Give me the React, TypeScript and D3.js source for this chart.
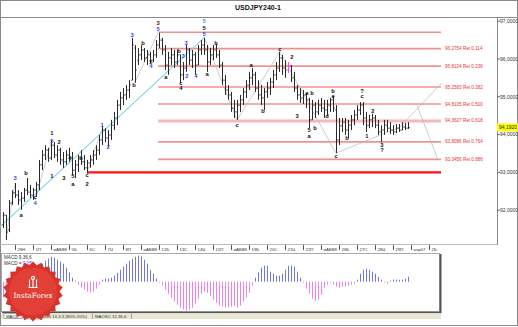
import React from 'react';
import * as d3 from 'd3';

// ---- OHLC data (USDJPY, H4) ----
const highs = [91.95,91.87,92.27,92.53,92.72,92.53,92.48,92.59,92.85,92.67,92.59,92.75,93.33,93.59,93.72,93.65,93.86,93.80,93.72,93.65,93.54,93.59,93.65,93.54,93.33,93.46,93.59,93.46,93.33,93.46,93.59,93.72,93.99,94.23,94.17,94.12,94.39,94.60,94.92,95.13,95.23,95.31,95.44,96.56,96.37,96.29,96.37,96.29,96.24,96.19,96.24,96.50,96.69,96.56,96.37,96.19,96.29,96.24,96.24,96.11,95.92,96.37,96.29,96.24,96.19,96.37,96.50,96.56,96.37,96.29,96.37,96.40,96.24,95.92,95.58,95.31,95.13,94.92,94.92,95.05,95.23,95.44,95.66,95.76,95.66,95.44,95.31,95.23,95.39,95.50,95.71,95.92,96.19,96.11,95.97,95.92,95.84,95.66,95.31,95.23,95.18,95.10,94.97,94.92,94.86,94.92,94.97,94.92,94.92,94.97,95.02,94.78,94.44,94.44,94.44,94.39,94.52,94.65,94.78,94.86,94.86,94.60,94.52,94.55,94.52,94.39,94.25,94.39,94.39,94.33,94.25,94.28,94.28,94.33,94.31,94.33];
const lows = [91.53,91.21,91.42,92.14,92.32,92.14,92.01,92.22,92.40,92.32,92.27,92.35,92.53,93.06,93.33,93.28,93.33,93.38,93.28,93.20,93.12,93.20,93.28,92.93,92.85,93.01,93.20,93.06,92.98,93.12,93.20,93.33,93.46,93.72,93.80,93.67,93.86,94.12,94.25,94.65,94.78,94.92,94.97,95.44,95.37,95.84,95.97,95.92,95.84,95.89,95.92,96.03,96.29,96.11,95.71,95.58,95.84,95.76,95.84,95.37,95.44,95.66,95.84,95.76,95.58,95.84,96.11,96.11,95.66,95.84,95.97,96.03,95.76,95.31,95.05,94.92,94.60,94.44,94.39,94.60,94.78,94.97,95.18,95.31,95.13,94.92,94.78,94.65,94.97,95.05,95.23,95.44,95.66,95.58,95.50,95.63,95.39,95.13,94.92,94.84,94.81,94.70,94.17,94.39,94.44,94.52,94.60,94.44,94.49,94.60,94.60,93.51,93.72,94.07,93.99,93.91,94.12,94.25,94.39,94.52,94.25,94.07,94.17,94.20,94.17,93.99,93.80,93.99,94.07,94.02,93.99,94.04,94.07,94.12,94.12,94.15];
const opens = [91.61,91.87,91.48,92.19,92.46,92.40,92.27,92.32,92.53,92.48,92.40,92.53,92.67,93.20,93.46,93.59,93.38,93.72,93.46,93.59,93.33,93.28,93.46,93.38,93.06,93.20,93.38,93.28,93.12,93.25,93.33,93.46,93.59,93.86,94.12,93.91,93.99,94.25,94.44,94.78,94.97,95.05,95.18,95.44,96.29,95.97,96.11,96.24,96.03,96.11,95.97,96.11,96.37,96.50,96.24,95.84,96.03,96.11,95.92,96.11,95.58,95.76,96.24,95.97,96.11,95.84,96.24,96.37,96.24,95.92,96.11,96.24,96.11,95.84,95.44,95.18,95.05,94.70,94.60,94.78,94.92,95.13,95.31,95.50,95.58,95.23,95.05,94.97,95.13,95.23,95.39,95.58,95.76,96.03,95.76,95.71,95.81,95.50,95.23,95.05,94.97,95.05,94.92,94.39,94.78,94.60,94.78,94.70,94.65,94.78,94.92,94.65,93.86,94.23,94.33,94.12,94.25,94.39,94.52,94.65,94.78,94.44,94.25,94.39,94.44,94.25,94.07,94.12,94.25,94.17,94.12,94.07,94.17,94.12,94.20,94.17];
const closes = [91.87,91.42,92.19,92.46,92.40,92.27,92.32,92.53,92.48,92.40,92.53,92.67,93.20,93.46,93.59,93.38,93.72,93.46,93.59,93.33,93.28,93.46,93.38,93.06,93.20,93.38,93.28,93.12,93.25,93.33,93.46,93.59,93.86,94.12,93.91,93.99,94.25,94.44,94.78,94.97,95.05,95.18,95.31,96.37,95.71,96.11,96.24,96.03,96.11,95.97,96.11,96.37,96.50,96.24,95.84,96.03,96.11,95.92,96.11,95.58,95.76,96.24,95.97,96.11,95.84,96.24,96.37,96.24,95.92,96.11,96.24,96.11,95.84,95.44,95.18,95.05,94.70,94.60,94.78,94.92,95.13,95.31,95.50,95.58,95.23,95.05,94.97,95.13,95.23,95.39,95.58,95.76,96.03,95.76,95.71,95.81,95.50,95.23,95.05,94.97,95.05,94.92,94.39,94.78,94.60,94.78,94.70,94.65,94.78,94.92,94.70,93.86,94.23,94.33,94.12,94.25,94.39,94.52,94.65,94.78,94.44,94.25,94.39,94.44,94.25,94.07,94.12,94.25,94.17,94.12,94.07,94.17,94.12,94.20,94.17,94.19];
const highlightBar = 95; // magenta bar

// ---- MACD histogram ----
const macd = [-0.16,-0.14,-0.10,-0.06,-0.02,0.02,0.05,0.07,0.08,0.09,0.10,0.11,0.14,0.18,0.21,0.23,0.25,0.24,0.22,0.20,0.18,0.14,0.09,0.04,0.01,-0.03,-0.06,-0.08,-0.10,-0.11,-0.10,-0.07,-0.03,0.02,0.03,0.03,0.04,0.06,0.09,0.12,0.15,0.18,0.21,0.23,0.25,0.26,0.25,0.22,0.18,0.12,0.08,0.03,-0.01,-0.04,-0.08,-0.12,-0.16,-0.20,-0.23,-0.26,-0.28,-0.29,-0.28,-0.26,-0.22,-0.17,-0.12,-0.10,-0.11,-0.14,-0.18,-0.21,-0.24,-0.25,-0.26,-0.26,-0.25,-0.24,-0.26,-0.24,-0.20,-0.16,-0.11,-0.04,0.04,0.09,0.14,0.16,0.16,0.10,0.08,0.06,0.06,0.08,0.12,0.16,0.16,0.15,0.10,0.04,-0.01,-0.07,-0.12,-0.17,-0.19,-0.18,-0.13,-0.06,-0.03,-0.01,-0.03,-0.05,-0.06,-0.05,-0.05,-0.04,-0.03,-0.02,0.02,0.08,0.12,0.13,0.12,0.10,0.08,0.05,0.02,-0.01,-0.02,0.01,0.02,0.02,0.02,0.02,0.03,0.05];

const dateLabels = ['28Н','1П','иАВВ8','5Б','6С','7Ч','8П','иАВВ8','12Б','13С','14Ч','15П','иАВВ8','19Б','20С','21Ч','22П','иАВВ8','26Б','27С','28Ч','29П','апр07','2Б'];
const priceTicks = [92, 93, 94, 95, 96, 97];
const fibTop = 96.708;
const fibLevels = [96.2754, 95.8124, 95.2583, 94.8105, 94.3627, 93.8086, 93.3456];
const fibRatios = ['0.114', '0.236', '0.382', '0.500', '0.618', '0.764', '0.886'];
const supportLevel = 93.0;
const lastPrice = 94.192;

const BLK = '#111';
const BLU = '#3344ee';
const CYN = '#3a9ad0';
const waveLabels: [number, number, string, string][] = [
  [4, 92.85, '3', BLU], [6, 91.87, 'a', BLK], [7.7, 92.98, 'b', BLK], [10.7, 92.35, 'c', BLK], [10.7, 92.19, '4', BLU],
  [16.3, 94.02, '1', BLK], [16.3, 93.83, '5', BLU], [18.7, 93.80, '2', BLK], [16.3, 92.88, '1', BLK], [20.3, 92.85, '3', BLK],
  [22.3, 93.38, '4', BLK], [26, 93.38, 'b', BLK], [23.3, 92.88, '5', BLK], [23.3, 92.69, 'a', BLK], [28, 92.91, 'c', BLK],
  [28, 92.69, '2', BLK], [33, 94.23, '1', BLU], [35, 93.67, '2', BLU], [43, 96.63, '3', BLU], [46.7, 96.42, 'b', BLK],
  [43.7, 95.31, 'b', BLK], [49.3, 95.92, '5', BLK], [49.3, 95.79, '4', BLU], [51.7, 96.95, '3', '#7a0000'], [51.7, 96.79, '5', BLU],
  [54.3, 95.52, 'a', BLK], [58.7, 96.19, 'b', BLK], [59.3, 95.34, 'c', BLK], [59.3, 95.21, '4', BLK], [61, 96.42, '3', BLU],
  [60, 96.08, '3', BLU], [61.3, 95.55, '2', BLU], [64.3, 95.55, '4', BLU], [67, 97.0, '5', CYN], [67, 96.82, '5', BLK],
  [67, 96.66, '5', BLU], [68, 95.60, 'a', BLK], [71, 96.40, 'b', BLK], [78, 94.25, 'c', BLK], [82.7, 95.84, 'a', BLK],
  [86.7, 94.62, 'b', BLK], [92.3, 96.24, 'c', BLK], [96.3, 96.05, '2', BLK], [98, 94.49, '3', BLK], [101.3, 95.10, 'a', BLK],
  [103, 95.10, 'b', BLK], [102, 94.12, '5', BLK], [102, 93.96, 'a', BLK], [104, 94.15, 'b', BLK], [108, 94.47, 'd', BLK],
  [110, 95.13, 'b', BLK], [110, 95.0, 'e', BLK], [111, 93.43, 'c', BLK], [114.7, 93.91, 'b', BLK], [119.7, 95.15, '?', BLK],
  [119.7, 95.0, 'c', BLK], [121.3, 93.94, '1', BLK], [123.3, 94.60, '2', BLK], [126.3, 93.72, '3', BLK], [126.3, 93.59, '?', BLK],
];
const waveLines: [number, number, number, number][] = [
  [43.7, 95.34, 51.7, 96.69], [67, 96.58, 78, 94.39], [78, 94.39, 92.3, 96.19], [92.3, 96.19, 111, 93.51],
  [111, 93.51, 132.3, 94.20], [132.3, 94.20, 146.3, 95.37], [138, 94.78, 145, 93.33],
  [1, 91.26, 4, 92.72], [10.7, 92.27, 16.3, 93.86], [28, 93.0, 33, 94.15],
];
const trendLine: [number, number, number, number] = [-1, 91.56, 67, 96.56];

const FONT = '"Liberation Sans", Arial, sans-serif';

export default function App() {
  const W = 518, H = 327;
  const x = d3.scaleLinear().domain([0, 135]).range([3, 408]);
  const y = d3.scaleLinear().domain([92, 97]).range([210.2, 21.2]);
  const ym = d3.scaleLinear().domain([-0.3, 0.3]).range([311.7, 251.7]);
  const fibX0 = x(51.7), fibX1 = x(146);

  const star = (() => {
    const n = 22; const pts: [number, number][] = [];
    for (let k = 0; k < n * 2; k++) pts.push([(k / (n * 2)) * Math.PI * 2, k % 2 === 0 ? 30 : 26.5]);
    return d3.lineRadial().curve(d3.curveLinearClosed)(pts) as string;
  })();

  const fmt = (v: number) => v.toFixed(4).replace('.', ',');

  return (
    <svg width={W} height={H} style={{ position: 'absolute', left: 0, top: 0, background: '#fff' }} fontFamily={FONT}>
      <rect x={0.5} y={0.5} width={W - 1} height={H - 2} fill="#fff" stroke="#8a8a8a" />
      <text x={258} y={9.5} textAnchor="middle" fontSize={7} fontWeight="bold" fill="#111">USDJPY240-1</text>
      <line x1={0} x2={W} y1={17.5} y2={17.5} stroke="#8a8a8a" />
      {/* main frame */}
      <line x1={497.5} x2={497.5} y1={17} y2={245} stroke="#8a8a8a" />
      <line x1={0} x2={497.5} y1={244.5} y2={244.5} stroke="#bbb" />

      {/* fib lines */}
      <line x1={fibX0} x2={fibX1} y1={y(fibTop)} y2={y(fibTop)} stroke="#f29090" strokeWidth={1.6} />
      {fibLevels.map((lv, k) => (
        <g key={k}>
          <line x1={fibX0} x2={fibX1} y1={y(lv)} y2={y(lv)} stroke={k === 4 ? '#f6b8b8' : '#f29090'} strokeWidth={k === 4 ? 3 : 1.6} />
          <text x={fibX1 + 4} y={y(lv) + 1.6} fontSize={4.6} fill="#f03030">{`${fmt(lv)} Ret ${fibRatios[k]}`}</text>
        </g>
      ))}
      <line x1={x(28)} x2={fibX1} y1={y(supportLevel)} y2={y(supportLevel)} stroke="#ff1010" strokeWidth={2.2} />

      {/* trend & wave lines */}
      <line x1={x(trendLine[0])} y1={y(trendLine[1])} x2={x(trendLine[2])} y2={y(trendLine[3])} stroke="#86d3e6" strokeWidth={1.1} />
      {waveLines.map((l, k) => (
        <line key={k} x1={x(l[0])} y1={y(l[1])} x2={x(l[2])} y2={y(l[3])} stroke="#b8b8b8" strokeWidth={0.7} />
      ))}

      {/* OHLC bars */}
      {highs.map((h, i) => {
        const c = i === highlightBar ? '#ff40ff' : '#2a2a2a';
        const xi = Math.round(x(i)) + 0.5;
        return (
          <g key={i} stroke={c} strokeWidth={1}>
            <line x1={xi} x2={xi} y1={y(h)} y2={y(lows[i])} />
            <line x1={xi - 1.2} x2={xi} y1={y(opens[i])} y2={y(opens[i])} />
            <line x1={xi} x2={xi + 1.2} y1={y(closes[i])} y2={y(closes[i])} />
          </g>
        );
      })}

      {/* wave labels */}
      {waveLabels.map((w, k) => (
        <text key={k} x={x(w[0])} y={y(w[1])} fontSize={5.8} fontWeight="bold" fill={w[3]} textAnchor="middle" dominantBaseline="middle">{w[2]}</text>
      ))}

      {/* price axis */}
      {priceTicks.map((p) => (
        <g key={p}>
          <line x1={497} x2={500} y1={y(p)} y2={y(p)} stroke="#666" />
          <text x={500} y={y(p) + 1.8} fontSize={5} fill="#333">{fmt(p)}</text>
        </g>
      ))}
      <rect x={497} y={y(lastPrice) - 4} width={21} height={8} fill="#ffff00" />
      <text x={499} y={y(lastPrice) + 1.8} fontSize={5} fill="#222">{fmt(lastPrice)}</text>

      {/* date axis */}
      {dateLabels.map((d, k) => {
        const xt = Math.round(x(4 + 6 * k)) + 0.5;
        return (
          <g key={k}>
            <line x1={xt} x2={xt} y1={245} y2={250} stroke="#555" />
            <text x={xt + 2} y={251} fontSize={4.3} fill="#333">{d}</text>
          </g>
        );
      })}

      {/* MACD panel */}
      <rect x={1.5} y={253.5} width={438} height={58} fill="#fff" stroke="#aaa" />
      <line x1={440.5} x2={440.5} y1={254} y2={313} stroke="#555" strokeWidth={2} />
      <line x1={2} x2={441} y1={312.5} y2={312.5} stroke="#555" strokeWidth={1.5} />
      {macd.map((v, i) => {
        const xi = Math.round(x(i)) + 0.5;
        return <line key={i} x1={xi} x2={xi} y1={ym(0)} y2={ym(v)} stroke={v >= 0 ? '#6f74f0' : '#f080ee'} strokeWidth={1} />;
      })}
      <text x={4} y={259} fontSize={4.6} fill="#333">MACD 9,36,6</text>
      <text x={4} y={265} fontSize={4.6} fill="#333">MACD =<tspan fill="#3344ee"> 0.05</tspan></text>

      {/* tab bar */}
      <rect x={1} y={313.5} width={440} height={5.5} fill="#e9e7d2" />
      <rect x={4} y={313.5} width={18} height={5} fill="#fff" stroke="#777" strokeWidth={0.6} />
      <text x={6} y={317.8} fontSize={4.3} fill="#222">MACD</text>
      <text x={40} y={317.8} fontSize={4.3} fill="#333">Stoch 13,3,3 (80%-20%)</text>
      <line x1={92.5} x2={92.5} y1={313.5} y2={319} stroke="#777" strokeWidth={0.6} />
      <text x={95} y={317.8} fontSize={4.3} fill="#333">MAOSC 12,36,6</text>
      <line x1={131.5} x2={131.5} y1={313.5} y2={319} stroke="#777" strokeWidth={0.6} />

      {/* logo */}
      <g transform="translate(33,291.5)">
        <path d={star} fill="#d8322b" />
        <circle r={24} fill="#e04036" />
        <g fill="none" stroke="#fff" strokeWidth={1.1}>
          <path d="M-3.5,-4 L-3.5,-12 M0,-4 L0,-13 M3.5,-4 L3.5,-12 M-4.5,-4 L4.5,-4" />
          <circle cx={0} cy={-13.5} r={1.6} />
        </g>
        <text x={0} y={6.5} textAnchor="middle" fontSize={7.2} fill="#fff" fontFamily='"DejaVu Serif", serif'>InstaForex</text>
      </g>
    </svg>
  );
}
